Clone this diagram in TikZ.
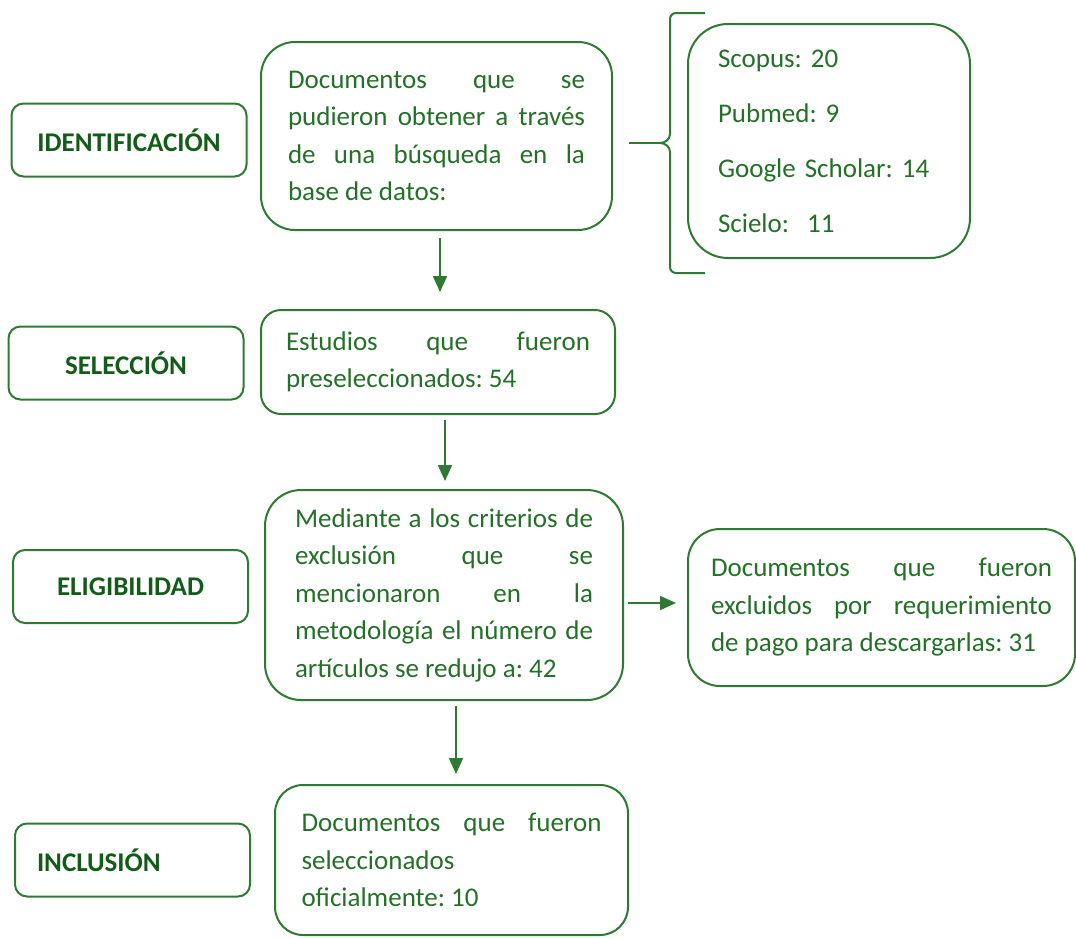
\documentclass[tikz,border=0pt]{standalone}
\usepackage{fontspec}
\setmainfont{Carlito}
\usepackage{xcolor}
\usetikzlibrary{arrows.meta,positioning}
\definecolor{prisma}{RGB}{46,122,50}
\definecolor{prismatext}{RGB}{36,112,40}
\definecolor{prismadark}{RGB}{18,92,24}
\frenchspacing

\begin{document}
\begin{tikzpicture}[x=0.5pt,y=-0.5pt,
  stage/.style={rectangle, rounded corners=6pt, draw=prisma, line width=1pt, minimum width=117.5pt, minimum height=36.5pt, font=\fontsize{13.5}{16}\selectfont\bfseries, text=prismadark},
  box/.style={rectangle, draw=prisma, line width=1pt, align=justify, text=prismatext, font=\fontsize{13.5}{18.75}\selectfont, inner ysep=4pt},
  arr/.style={draw=prisma, line width=1pt, -{Triangle[length=8pt,width=7pt]}}
]
\useasboundingbox (0,0) rectangle (1076,938);

% etapas
\node[stage] (lid) at (129,140) {IDENTIFICACIÓN};
\node[stage] (lsel) at (126,363) {SELECCIÓN};
\node[stage] (lel) at (130.5,586.5) {ELIGIBILIDAD};
\node[stage, text width=95.5pt, inner xsep=11pt, align=left] (linc) at (132.5,860) {INCLUSIÓN};

% cajas
\node[box, rounded corners=17pt, text width=148.5pt, inner xsep=13.5pt, minimum height=94pt] (busq) at (436.5,136)
  {Documentos que se\linebreak pudieron obtener a través\linebreak de una búsqueda en la\linebreak base de datos:};
\node[box, rounded corners=20pt, text width=111pt, inner xsep=15pt, minimum height=117pt, align=left, font=\fontsize{13.5}{27.5}\selectfont] (bases) at (829,141)
  {Scopus: 20\\Pubmed: 9\\Google Scholar: 14\\Scielo:~~11};
\node[box, rounded corners=10pt, text width=152pt, inner xsep=12.5pt, minimum height=52pt] (presel) at (438,362)
  {Estudios que fueron\linebreak preseleccionados: 54};
\node[box, rounded corners=18pt, text width=149pt, inner xsep=15pt, minimum height=105pt] (criter) at (444,595)
  {Mediante a los criterios de\linebreak exclusión que se\linebreak mencionaron en la\linebreak metodología el número de\linebreak artículos se redujo a: 42};
\node[box, rounded corners=16pt, text width=170.5pt, inner xsep=11.5pt, minimum height=78.5pt] (exclu) at (881.5,607.5)
  {Documentos que fueron\linebreak excluidos por requerimiento\linebreak de pago para descargarlas: 31};
\node[box, rounded corners=14pt, text width=150pt, inner xsep=13.25pt, minimum height=75pt] (incl) at (451.5,860)
  {Documentos que fueron\linebreak seleccionados\\oficialmente: 10};

% llave
\coordinate (brtip) at (660,143);
\draw[prisma, line width=1pt] (705,13) -- (676,13) to[out=180,in=90] (670,19) -- (670,134)
  to[out=-90,in=0] (brtip) to[out=0,in=90] (670,152) -- (670,267) to[out=-90,in=180] (676,273) -- (705,273);
\draw[prisma, line width=1pt] ([xshift=8pt,yshift=-3.5pt]busq.east) -- (brtip);

% flechas
\draw[arr, shorten <=3.5pt, shorten >=8.5pt] ([xshift=1.75pt]busq.south) -- ([xshift=1.75pt]busq.south |- presel.north);
\draw[arr, shorten <=2.5pt, shorten >=4pt] ([xshift=3.5pt]presel.south) -- ([xshift=3.5pt]presel.south |- criter.north);
\draw[arr, shorten <=2pt, shorten >=5.5pt] ([yshift=-4pt]criter.east) -- ([yshift=-4pt]criter.east -| exclu.west);
\draw[arr, shorten <=2.5pt, shorten >=5pt] ([xshift=6pt]criter.south) -- ([xshift=6pt]criter.south |- incl.north);

\end{tikzpicture}
\end{document}
